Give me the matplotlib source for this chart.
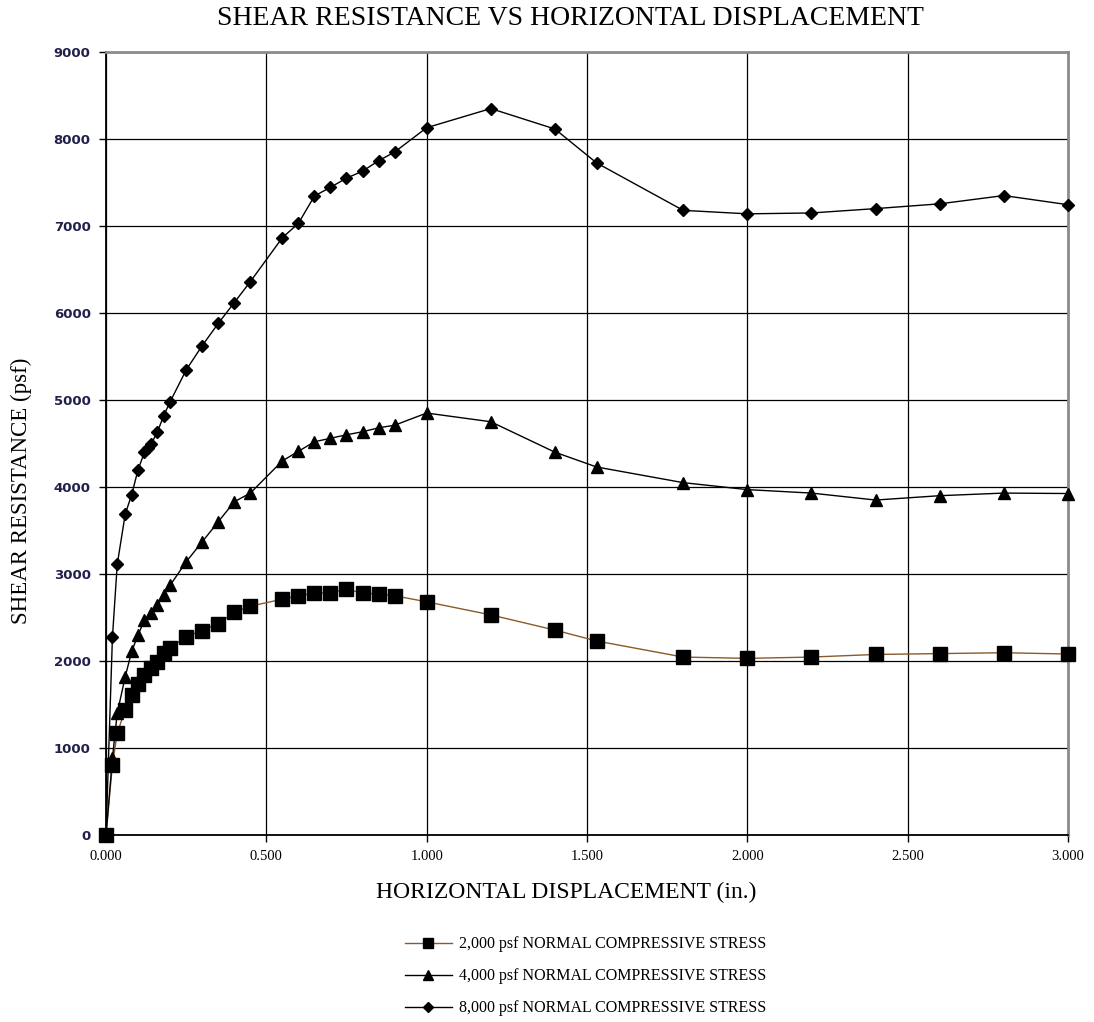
import matplotlib
matplotlib.use("Agg")
import matplotlib.pyplot as plt

### --- data
disp_2k = [0, 0.02, 0.035, 0.06, 0.08, 0.10, 0.12, 0.14, 0.16, 0.18, 0.20, 0.25, 0.30, 0.35,
           0.40, 0.45, 0.55, 0.60, 0.65, 0.70, 0.75, 0.80, 0.85, 0.90, 1.00, 1.20, 1.40, 1.53,
           1.80, 2.00, 2.20, 2.40, 2.60, 2.80, 3.00]
shear_2k = [0, 810, 1170, 1440, 1610, 1740, 1840, 1920, 1990, 2090, 2150, 2280, 2350, 2430,
            2560, 2630, 2710, 2750, 2780, 2785, 2825, 2780, 2770, 2750, 2680, 2530, 2355, 2230,
            2045, 2030, 2045, 2075, 2085, 2095, 2080]

disp_4k = [0, 0.02, 0.035, 0.06, 0.08, 0.10, 0.12, 0.14, 0.16, 0.18, 0.20, 0.25, 0.30, 0.35,
           0.40, 0.45, 0.55, 0.60, 0.65, 0.70, 0.75, 0.80, 0.85, 0.90, 1.00, 1.20, 1.40, 1.53,
           1.80, 2.00, 2.20, 2.40, 2.60, 2.80, 3.00]
shear_4k = [0, 880, 1400, 1820, 2110, 2300, 2470, 2550, 2640, 2760, 2870, 3140, 3370, 3600,
            3830, 3930, 4300, 4410, 4520, 4560, 4600, 4635, 4680, 4710, 4850, 4750, 4400, 4230,
            4050, 3970, 3930, 3850, 3900, 3930, 3925]

disp_8k = [0, 0.02, 0.035, 0.06, 0.08, 0.10, 0.12, 0.13, 0.14, 0.16, 0.18, 0.20, 0.25, 0.30,
           0.35, 0.40, 0.45, 0.55, 0.60, 0.65, 0.70, 0.75, 0.80, 0.85, 0.90, 1.00, 1.20, 1.40,
           1.53, 1.80, 2.00, 2.20, 2.40, 2.60, 2.80, 3.00]
shear_8k = [0, 2270, 3110, 3690, 3910, 4200, 4400, 4450, 4490, 4630, 4820, 4980, 5345, 5625,
            5880, 6120, 6360, 6866, 7030, 7345, 7445, 7550, 7630, 7750, 7850, 8130, 8350, 8115,
            7725, 7180, 7140, 7150, 7200, 7255, 7350, 7245]

labels = ["2,000 psf NORMAL COMPRESSIVE STRESS",
          "4,000 psf NORMAL COMPRESSIVE STRESS",
          "8,000 psf NORMAL COMPRESSIVE STRESS"]

xticks = [0, 0.5, 1.0, 1.5, 2.0, 2.5, 3.0]
yticks = list(range(0, 9001, 1000))

serif = "Liberation Serif"

### --- plot
fig = plt.figure(figsize=(10.94, 10.22), dpi=100)
ax = fig.add_axes([0.0969, 0.183, 0.8793, 0.7661])

ax.plot(disp_2k, shear_2k, color="#8a5a2a", lw=1.0, marker="s", ms=9.5,
        mfc="black", mec="black", label=labels[0], zorder=3, clip_on=False)
ax.plot(disp_4k, shear_4k, color="black", lw=1.0, marker="^", ms=9,
        mfc="black", mec="black", label=labels[1], zorder=3, clip_on=False)
ax.plot(disp_8k, shear_8k, color="black", lw=1.0, marker="D", ms=6.5,
        mfc="black", mec="black", label=labels[2], zorder=3, clip_on=False)

ax.set_xlim(0, 3.0)
ax.set_ylim(0, 9000)
ax.set_xticks(xticks)
ax.set_yticks(yticks)
ax.set_xticklabels(["%.3f" % v for v in xticks], fontfamily=serif, fontsize=10.5)
ax.set_yticklabels([str(v) for v in yticks], fontsize=9.5, fontweight="bold", color="#20204a")
ax.tick_params(axis="both", direction="out", length=5, width=1, color="black", pad=6)

ax.grid(True, color="black", lw=0.9)
ax.set_axisbelow(True)
for side in ["left", "bottom"]:
    ax.spines[side].set_color("black")
    ax.spines[side].set_linewidth(1.3)
for side in ["top", "right"]:
    ax.spines[side].set_color("#8c8c8c")
    ax.spines[side].set_linewidth(2.0)

fig.text(0.521, 0.982, "SHEAR RESISTANCE VS HORIZONTAL DISPLACEMENT",
         ha="center", va="center", fontfamily=serif, fontsize=20)
ax.set_xlabel("HORIZONTAL DISPLACEMENT (in.)", fontfamily=serif, fontsize=17)
ax.xaxis.set_label_coords(0.478, -0.060)
ax.set_ylabel("SHEAR RESISTANCE (psf)", fontfamily=serif, fontsize=16.5)
ax.yaxis.set_label_coords(-0.077, 0.44)

fig.legend(loc="upper center", bbox_to_anchor=(0.535, 0.098), frameon=False,
           prop={"family": serif, "size": 11.5}, handlelength=3.0, labelspacing=1.0,
           markerscale=0.75, handletextpad=0.4)

plt.savefig("out.png", dpi=100)
